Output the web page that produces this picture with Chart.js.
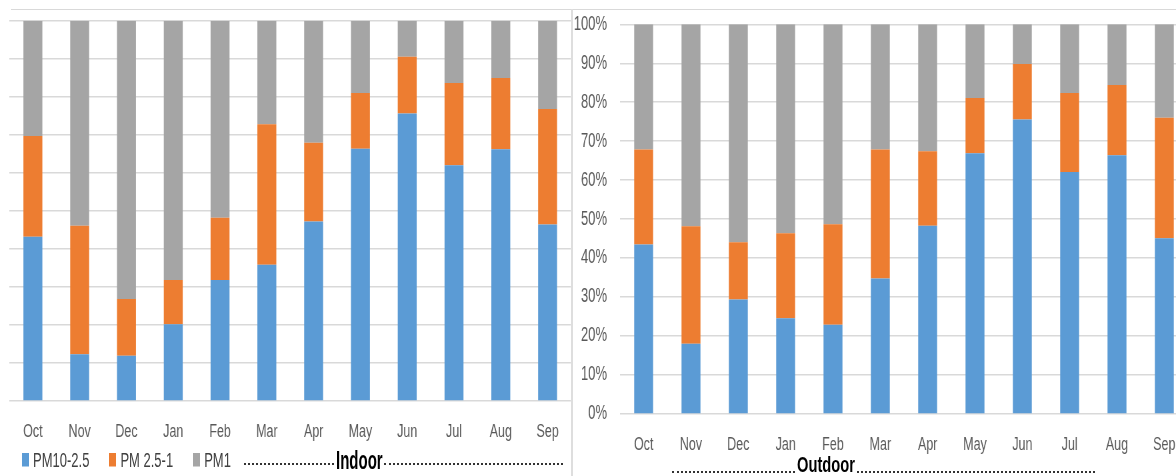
<!DOCTYPE html>
<html><head><meta charset="utf-8">
<script src="https://cdn.jsdelivr.net/npm/chart.js@4.4.1/dist/chart.umd.min.js"></script>
<style>
html,body{margin:0;padding:0;background:#fff;width:1176px;height:476px;overflow:hidden;position:relative;}
.wrap{position:absolute;top:0;height:318px;transform:scaleY(1.5);transform-origin:0 0;}
.wrap canvas{position:absolute;left:0;top:0;}
.ln{position:absolute;background:#d9d9d9;z-index:2}
.dots{position:absolute;border-bottom:2px dotted #333;height:0;z-index:2}
.ttl{position:absolute;font-family:'Liberation Sans',Arial,sans-serif;font-weight:bold;color:#000;line-height:1;transform-origin:0 100%;white-space:nowrap;z-index:2}
#legend{position:absolute;left:22px;top:299.7px;height:14px;display:flex;align-items:center;font-family:'Liberation Sans',Arial,sans-serif;font-size:13px;line-height:14px;color:#404040;white-space:nowrap}
#legend .it{display:flex;align-items:center;margin-right:20px}
#legend .bx{width:7px;height:9.4px;margin-right:4px}
</style></head><body>
<div class="wrap" id="wIn" style="left:0;width:572px">
  <canvas id="cIn" width="572" height="318"></canvas>
  <div id="legend"></div>
</div>
<div class="wrap" id="wOut" style="left:572px;width:618px">
  <canvas id="cOut" width="618" height="318"></canvas>
</div>
<div class="ln" style="left:11px;top:9px;width:1165px;height:1px"></div>
<div class="ln" style="left:571px;top:9px;width:2px;height:467px;background:#dedede"></div>
<div class="dots" style="left:244px;top:463px;width:90px"></div>
<div class="ttl" style="left:336px;top:456.5px;font-size:15px;transform:scaleY(1.75)">Indoor</div>
<div class="dots" style="left:384px;top:463px;width:179px"></div>
<div class="dots" style="left:672px;top:471px;width:123px"></div>
<div class="ttl" style="left:797px;top:462px;font-size:14.7px;transform:scaleY(1.56)">Outdoor</div>
<div class="dots" style="left:857px;top:471px;width:238px"></div>
<script>
const months = ['Oct','Nov','Dec','Jan','Feb','Mar','Apr','May','Jun','Jul','Aug','Sep'];
const seriesNames = ['PM10-2.5','PM 2.5-1','PM1'];
const seriesColors = ['#5B9BD5','#ED7D31','#A5A5A5'];

const indoorPM10_25 = [43.2, 12.3, 11.9, 20.2, 31.8, 35.8, 47.2, 66.3, 75.6, 62.0, 66.2, 46.4];
const indoorPM25_1  = [26.5, 33.8, 14.9, 11.6, 16.4, 37.0, 20.7, 14.7, 14.9, 21.6, 18.7, 30.4];
const indoorPM1     = [30.3, 53.9, 73.2, 68.2, 51.8, 27.2, 32.1, 19.0,  9.5, 16.4, 15.1, 23.2];

const outdoorPM10_25 = [43.5, 18.0, 29.4, 24.6, 22.9, 34.8, 48.3, 66.9, 75.6, 62.1, 66.4, 45.1];
const outdoorPM25_1  = [24.4, 30.2, 14.7, 21.8, 25.8, 33.1, 19.1, 14.2, 14.2, 20.3, 18.0, 30.9];
const outdoorPM1     = [32.1, 51.8, 55.9, 53.6, 51.3, 32.1, 32.6, 18.9, 10.2, 17.6, 15.6, 24.0];

const yTickLabels = ['0%','10%','20%','30%','40%','50%','60%','70%','80%','90%','100%'];

const FONT = "'Liberation Sans', Arial, sans-serif";
const GRID = '#d9d9d9';

function makeDatasets(a, b, c, pct) {
  return [a, b, c].map((d, i) => ({
    label: seriesNames[i], data: d,
    backgroundColor: seriesColors[i], borderColor: seriesColors[i], borderWidth: 0,
    barPercentage: pct, categoryPercentage: 1
  }));
}

function yScale(showLabels, width) {
  return {
    stacked: true, min: 0, max: 100,
    ticks: {
      display: showLabels, stepSize: 10, padding: 13, color: '#595959',
      font: { family: FONT, size: 13 },
      callback: v => yTickLabels[Math.round(v / 10)]
    },
    grid: { color: GRID, lineWidth: 1, drawTicks: false },
    border: { display: false },
    afterFit: s => { s.width = width; s.paddingTop = 0; s.paddingBottom = 0; }
  };
}
function xScale(height, pad) {
  return {
    stacked: true,
    grid: { display: false, drawTicks: false },
    border: { display: false },
    ticks: { color: '#595959', padding: pad, maxRotation: 0, autoSkip: false, font: { family: FONT, size: 12.5 } },
    afterFit: s => { s.height = height; }
  };
}

const chartIn = new Chart(document.getElementById('cIn'), {
  type: 'bar',
  data: { labels: months, datasets: makeDatasets(indoorPM10_25, indoorPM25_1, indoorPM1, 0.405) },
  options: {
    responsive: false, animation: false, devicePixelRatio: 1.5,
    layout: { padding: { top: 13.8, left: 0, right: 1, bottom: 20.7 } },
    scales: { x: xScale(30, 13.2), y: yScale(false, 9.5) },
    plugins: { legend: { display: false }, tooltip: { enabled: false } }
  }
});

new Chart(document.getElementById('cOut'), {
  type: 'bar',
  data: { labels: months, datasets: makeDatasets(outdoorPM10_25, outdoorPM25_1, outdoorPM1, 0.4) },
  options: {
    responsive: false, animation: false, devicePixelRatio: 1.5,
    layout: { padding: { top: 16.2, left: 0, right: 2, bottom: 12 } },
    scales: { x: xScale(30, 12.8), y: yScale(true, 48) },
    plugins: { legend: { display: false }, tooltip: { enabled: false } }
  }
});

// Legend built from the chart's own datasets
const lg = document.getElementById('legend');
chartIn.data.datasets.forEach(ds => {
  const it = document.createElement('span'); it.className = 'it';
  const bx = document.createElement('span'); bx.className = 'bx'; bx.style.background = ds.backgroundColor;
  const tx = document.createElement('span'); tx.textContent = ds.label;
  it.appendChild(bx); it.appendChild(tx); lg.appendChild(it);
});
</script>
</body></html>
